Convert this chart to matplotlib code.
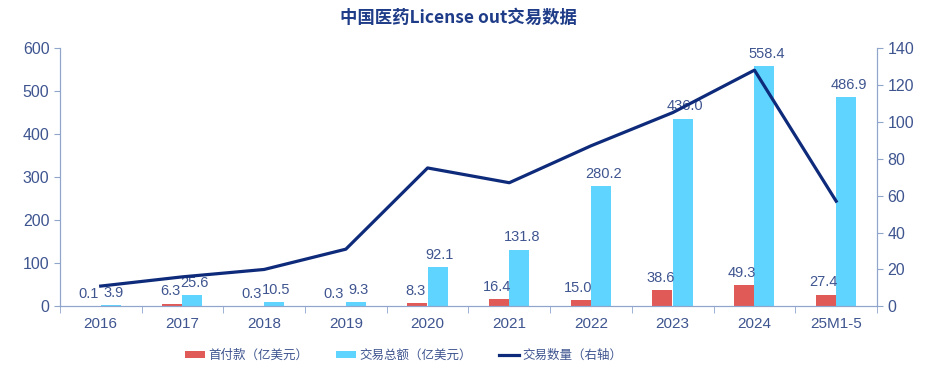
import numpy as np
import matplotlib
matplotlib.use("Agg")
import matplotlib.pyplot as plt

plt.rcParams['font.family'] = ['Liberation Sans', 'Noto Sans CJK SC', 'DejaVu Sans']

# ── data ──────────────────────────────────────────────
years = ["2016", "2017", "2018", "2019", "2020", "2021", "2022", "2023", "2024", "25M1-5"]
upfront = [0.1, 6.3, 0.3, 0.3, 8.3, 16.4, 15.0, 38.6, 49.3, 27.4]
total = [3.9, 25.6, 10.5, 9.3, 92.1, 131.8, 280.2, 436.0, 558.4, 486.9]
deal_count = [11, 16, 20, 31, 75, 67, 87, 105, 128, 57]

RED = '#E05A58'
CYAN = '#5FD4FF'
NAVY = '#0E2A7A'
TXT = '#3F5590'
SPINE = '#8FA5CC'

fig, ax = plt.subplots(figsize=(9.35, 3.75), dpi=100)
fig.subplots_adjust(left=0.064, right=0.938, top=0.872, bottom=0.183)
ax2 = ax.twinx()

x = np.arange(len(years))
w = 0.245
b1 = ax.bar(x - w / 2 - 0.005, upfront, w, color=RED, zorder=2)
b2 = ax.bar(x + w / 2, total, w, color=CYAN, zorder=2)

for xi, v in zip(x, upfront):
    ax.text(xi - w / 2 - 0.03, v + 12, f"{v:.1f}", ha='center', va='bottom',
            fontsize=10.5, color=TXT, zorder=3)
for xi, v in zip(x, total):
    ax.text(xi + w / 2 + 0.03, v + 12, f"{v:.1f}", ha='center', va='bottom',
            fontsize=10.5, color=TXT, zorder=3)

# line on the right axis, drawn on top of bars and labels
ln, = ax2.plot(x, deal_count, color=NAVY, lw=2.3, zorder=4)

ax.set_xlim(-0.5, len(years) - 0.5)
ax.set_ylim(0, 600)
ax.set_yticks(range(0, 601, 100))
ax2.set_ylim(0, 140)
ax2.set_yticks(range(0, 141, 20))

ax.set_xticks(x)
ax.set_xticklabels(years)
ax.set_xticks(np.arange(-0.5, len(years)), minor=True)
ax.tick_params(axis='x', which='major', length=0, labelsize=11, colors=TXT, pad=8)
ax.tick_params(axis='x', which='minor', length=5, color=SPINE, direction='out')
ax.tick_params(axis='y', labelsize=11.5, colors=TXT, length=4, color=SPINE)
ax2.tick_params(axis='y', labelsize=11.5, colors=TXT, length=4, color=SPINE)

for a in (ax, ax2):
    a.spines['top'].set_visible(False)
    for s in ('left', 'right', 'bottom'):
        a.spines[s].set_color(SPINE)

fig.suptitle('中国医药License out交易数据', x=0.49, y=0.975, fontsize=12.5,
             fontweight='bold', color='#1F3C88', family=['Noto Sans CJK SC', 'DejaVu Sans'])

leg = fig.legend([b1, b2, ln], ['首付款（亿美元）', '交易总额（亿美元）', '交易数量（右轴）'],
                 loc='lower center', bbox_to_anchor=(0.432, 0.005), ncol=3, frameon=False,
                 handlelength=1.6, handleheight=0.6, columnspacing=2.2, handletextpad=0.25,
                 prop={'family': ['Noto Sans CJK SC', 'DejaVu Sans'], 'size': 9})
for t in leg.get_texts():
    t.set_color(TXT)

fig.savefig('out.png', dpi=100)
